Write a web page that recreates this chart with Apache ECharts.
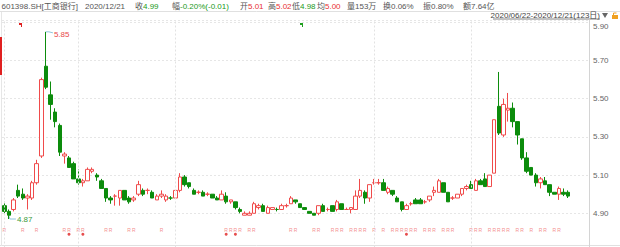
<!DOCTYPE html>
<html><head><meta charset="utf-8">
<script src="https://cdn.jsdelivr.net/npm/echarts@6/dist/echarts.min.js"></script>
<style>html,body{margin:0;padding:0;background:#fff;overflow:hidden}#c{width:620px;height:247px}</style>
</head><body><div id="c"></div>
<script>
// trading days per month (2020)
const tradeDays = {
  '06': [22,23,24,29,30],
  '07': [1,2,3,6,7,8,9,10,13,14,15,16,17,20,21,22,23,24,27,28,29,30,31],
  '08': [3,4,5,6,7,10,11,12,13,14,17,18,19,20,21,24,25,26,27,28,31],
  '09': [1,2,3,4,7,8,9,10,11,14,15,16,17,18,21,22,23,24,25,28,29,30],
  '10': [9,12,13,14,15,16,19,20,21,22,23,26,27,28,29,30],
  '11': [2,3,4,5,6,9,10,11,12,13,16,17,18,19,20,23,24,25,26,27,30],
  '12': [1,2,3,4,7,8,9,10,11,14,15,16,17,18,21]
};
const categories = [];
Object.keys(tradeDays).forEach(m => tradeDays[m].forEach(d => categories.push('2020-' + m + '-' + String(d).padStart(2,'0'))));

const opens = [4.94,4.91,4.92,5.02,5.00,4.98,4.98,5.06,5.20,5.67,5.52,5.43,5.36,5.20,5.19,5.16,5.08,5.06,5.07,5.12,
5.10,5.07,5.03,4.98,4.99,4.98,5.02,4.98,4.97,5.00,5.02,5.02,5.01,4.97,4.99,4.97,4.98,4.98,5.02,5.09,
5.06,5.02,5.01,5.01,5.00,5.00,4.98,4.97,4.99,4.96,4.96,4.92,4.89,4.89,4.90,4.93,4.94,4.90,4.92,4.92,
4.92,4.94,4.95,4.97,4.95,4.93,4.91,4.90,4.90,4.94,4.92,4.94,4.92,4.95,4.92,4.92,4.92,4.99,5.01,4.98,
5.06,5.06,5.06,5.01,5.02,4.98,4.96,4.92,4.95,4.97,4.97,4.96,4.97,5.01,5.01,5.06,5.01,4.98,4.98,5.00,
5.03,5.05,5.02,5.07,5.08,5.04,5.11,5.46,5.31,5.44,5.45,5.38,5.29,5.19,5.14,5.10,5.06,5.07,5.05,5.01,
5.00,5.01,5.01];
const closes = [4.91,4.89,4.97,4.99,4.98,4.99,5.06,5.16,5.60,5.56,5.47,5.38,5.22,5.21,5.14,5.08,5.06,5.07,5.13,5.13,
5.09,5.03,4.98,4.97,4.99,5.02,4.97,4.96,4.98,5.05,5.00,5.02,4.98,4.99,5.00,4.99,4.98,5.02,5.09,5.05,
5.04,5.00,5.01,4.99,5.00,4.98,4.97,5.00,4.96,4.97,4.93,4.91,4.90,4.90,4.95,4.94,4.91,4.93,4.93,4.92,
4.94,4.94,4.98,4.96,4.93,4.92,4.90,4.89,4.94,4.91,4.92,4.91,4.96,4.92,4.92,4.93,4.99,5.02,4.98,5.05,
5.06,5.06,5.02,5.03,5.00,4.96,4.92,4.94,4.95,4.95,4.95,4.96,4.99,5.02,5.07,5.01,4.96,4.98,5.00,5.03,
5.04,5.03,5.07,5.05,5.04,5.10,5.39,5.32,5.47,5.45,5.38,5.31,5.19,5.12,5.10,5.06,5.08,5.05,5.01,5.00,
5.03,5.00,4.99];
const lows = [4.90,4.87,4.91,4.98,4.97,4.92,4.97,5.05,5.19,5.55,5.39,5.35,5.20,5.16,5.14,5.08,5.05,5.04,5.07,5.11,
5.07,5.03,4.96,4.95,4.94,4.94,4.97,4.95,4.96,4.99,4.99,5.00,4.98,4.97,4.98,4.96,4.97,4.98,5.01,5.04,
5.03,5.00,5.00,4.99,4.99,4.98,4.97,4.97,4.95,4.95,4.92,4.90,4.89,4.89,4.90,4.92,4.91,4.90,4.92,4.91,
4.92,4.93,4.95,4.95,4.93,4.92,4.90,4.89,4.89,4.91,4.91,4.91,4.91,4.92,4.92,4.90,4.92,4.98,4.95,4.96,
5.05,5.05,5.02,5.00,4.99,4.96,4.91,4.92,4.94,4.95,4.95,4.95,4.96,4.99,5.01,5.01,4.96,4.97,4.98,4.99,
5.02,5.03,5.02,5.05,5.04,5.04,5.11,5.31,5.30,5.38,5.35,5.26,5.18,5.11,5.10,5.04,5.03,5.05,4.99,5.00,
4.97,4.99,4.98];
const highs = [4.96,4.92,4.98,5.05,5.03,5.00,5.07,5.18,5.61,5.85,5.59,5.45,5.37,5.22,5.20,5.17,5.13,5.08,5.14,5.14,
5.11,5.08,5.03,4.99,5.00,5.02,5.02,4.99,4.99,5.07,5.03,5.03,5.02,5.00,5.02,5.00,4.99,5.02,5.11,5.10,
5.06,5.03,5.02,5.02,5.01,5.00,4.99,5.02,5.01,4.97,4.96,4.93,4.91,4.91,4.96,4.95,4.95,4.94,4.93,4.93,
4.95,4.95,4.99,4.97,4.95,4.93,4.91,4.90,4.94,4.95,4.93,4.94,4.97,4.95,4.93,4.93,5.02,5.08,5.02,5.05,
5.08,5.08,5.08,5.04,5.02,4.99,4.96,4.95,4.96,4.98,4.98,4.97,4.99,5.04,5.08,5.06,5.01,4.99,5.00,5.03,
5.05,5.07,5.08,5.08,5.11,5.10,5.39,5.64,5.50,5.53,5.48,5.38,5.29,5.22,5.14,5.11,5.09,5.09,5.05,5.01,
5.04,5.03,5.02];

const rMarks = [0,4,7,13,14,16,17,22,23,27,28,34,48,49,50,51,53,54,62,63,67,68,71,72,73,75,76,77,78,80,82,84,85,86,87,88,89,
91,92,93,95,96,97,101,102,103,105,106,107,108,109,111,112,114,116,117,119,120];
const starMarks = [14,17,48,50,87];
const monthStarts = ['2020-08-03','2020-09-01','2020-10-09','2020-11-02','2020-12-01'];
const yTicks = [4.9,5.1,5.3,5.5,5.7,5.9];
const maxMark = {idx: 9, value: 5.85};
const minMark = {idx: 1, value: 4.87};
const headerItems = [
  {x: 1.5, label: '601398.SH[工商银行]', value: '', vc: 'g'},
  {x: 85, label: '2020/12/21', value: '', vc: 'g'},
  {x: 135, label: '收', value: '4.99', vc: 'dn'},
  {x: 172, label: '幅', value: '-0.20%(-0.01)', vc: 'dn'},
  {x: 240, label: '开', value: '5.01', vc: 'up'},
  {x: 268, label: '高', value: '5.02', vc: 'up'},
  {x: 292, label: '低', value: '4.98', vc: 'dn'},
  {x: 317, label: '均', value: '5.00', vc: 'up'},
  {x: 347, label: '量', value: '153万', vc: 'g'},
  {x: 383, label: '换', value: '0.06%', vc: 'g'},
  {x: 423, label: '振', value: '0.80%', vc: 'g'},
  {x: 463, label: '额', value: '7.64亿', vc: 'g'}
];
const rangeText = '2020/06/22-2020/12/21(123日)';

const UP = '#f04b4b', DN = '#0c8c0c';
const FONT = 'Liberation Sans, "Noto Sans CJK SC", sans-serif';
const padCats = categories.concat(['', '', '', '']);
const kData = opens.map((o, i) => [o, closes[i], lows[i], highs[i]]);

const chart = echarts.init(document.getElementById('c'), null, {renderer: 'svg'});
chart.setOption({
  animation: false,
  grid: {left: 2, right: 31, top: 20, height: 231.5, containLabel: false, outerBoundsMode: 'none'},
  xAxis: {
    type: 'category', data: padCats, boundaryGap: true,
    axisLine: {show: false}, axisTick: {show: false}, axisLabel: {show: false}, splitLine: {show: false}
  },
  yAxis: {
    type: 'value', position: 'right', min: 4.7, max: 5.912, interval: 0.2, scale: true,
    axisLine: {show: true, lineStyle: {color: '#d4d4d4'}},
    axisTick: {show: false},
    splitLine: {show: true, lineStyle: {color: '#e6e6e6', type: [2, 2]}},
    axisLabel: {
      margin: 4, color: '#666', fontSize: 8, fontFamily: FONT,
      formatter: function (v) {
        const hit = yTicks.find(t => Math.abs(t - v) < 1e-6);
        if (hit === undefined) return '';
        if (hit === yTicks[yTicks.length - 1]) return '{t|' + hit.toFixed(2) + '}';
        return hit.toFixed(2);
      },
      rich: {t: {color: '#666', fontSize: 8, fontFamily: FONT, padding: [9, 0, 0, 0]}}
    }
  },
  series: [
    {
      type: 'candlestick', data: kData, barWidth: 4,
      itemStyle: {color: '#ffffff', color0: DN, borderColor: UP, borderColor0: DN, borderWidth: 1},
      markLine: {
        silent: true, symbol: 'none', label: {show: false},
        lineStyle: {color: '#e2e2e2', type: [2, 2], width: 1},
        data: monthStarts.map(d => ({xAxis: d}))
      }
    },
    {
      type: 'scatter', data: rMarks.map(i => [i, 4.815]), symbolSize: 1,
      itemStyle: {color: 'rgba(0,0,0,0)'}, silent: true,
      label: {show: true, position: 'inside', formatter: 'R', color: '#f07070', fontSize: 5, fontFamily: FONT}
    },
    {
      type: 'scatter', data: starMarks.map(i => [i, 4.79]), symbolSize: 3, symbol: 'circle',
      itemStyle: {color: '#e02020'}, silent: true
    }
  ]
});

const pMax = chart.convertToPixel({seriesIndex: 0}, [maxMark.idx, maxMark.value]);
const pMin = chart.convertToPixel({seriesIndex: 0}, [minMark.idx, minMark.value]);

const graphics = [
  {type: 'line', shape: {x1: 0, y1: 11.5, x2: 620, y2: 11.5}, style: {stroke: '#e0e0e0', lineWidth: 1}},
  {type: 'line', shape: {x1: 0, y1: 245.5, x2: 620, y2: 245.5}, style: {stroke: '#e0e0e0', lineWidth: 1}},
  {type: 'line', shape: {x1: 1.5, y1: 12, x2: 1.5, y2: 246}, style: {stroke: '#e6e6e6', lineWidth: 1}},
  {type: 'rect', shape: {x: 0, y: 37, width: 2, height: 38}, style: {fill: '#e02020'}},
  {type: 'polygon', shape: {points: [[19, 23], [22, 23], [22, 27], [21, 27], [21, 25], [19, 25]]}, style: {fill: '#e02020'}},
  {type: 'polygon', shape: {points: [[300, 23], [303, 23], [303, 27], [302, 27], [302, 25], [300, 25]]}, style: {fill: '#20a020'}},
  {type: 'polyline', shape: {points: [[pMax[0], pMax[1]], [pMax[0] + 3, pMax[1]], [pMax[0] + 7, pMax[1] + 1]]}, style: {stroke: '#8fc6dc', lineWidth: 1, fill: null}},
  {type: 'text', x: pMax[0] + 8, y: pMax[1] + 3, style: {text: maxMark.value.toFixed(2), fill: '#e84848', font: '8px ' + FONT, textVerticalAlign: 'middle'}},
  {type: 'polyline', shape: {points: [[pMin[0], pMin[1] - 3], [pMin[0] + 1, pMin[1]], [pMin[0] + 7, pMin[1]]]}, style: {stroke: '#8fc6dc', lineWidth: 1, fill: null}},
  {type: 'text', x: pMin[0] + 8, y: pMin[1], style: {text: minMark.value.toFixed(2), fill: '#3c9a3c', font: '8px ' + FONT, textVerticalAlign: 'middle'}},
  {type: 'text', x: 600, y: 15.5, style: {text: rangeText, fill: '#444', font: '8px ' + FONT, textAlign: 'right', textVerticalAlign: 'middle'}},
  {type: 'line', shape: {x1: 493, y1: 19, x2: 600, y2: 19}, style: {stroke: '#666', lineWidth: 0.8}},
  {type: 'polygon', shape: {points: [[602, 13], [608, 13], [605, 18]]}, style: {fill: '#666'}},
  {type: 'rect', shape: {x: 612, y: 15, width: 6, height: 4}, style: {fill: '#f0a020'}},
  {type: 'polyline', shape: {points: [[613.5, 15], [613.5, 13], [616.5, 13]]}, style: {stroke: '#f0a020', lineWidth: 1, fill: null}}
];
headerItems.forEach(h => {
  const vcol = h.vc === 'up' ? '#e83030' : (h.vc === 'dn' ? '#1a9a1a' : '#555');
  graphics.push({
    type: 'text', x: h.x, y: 6,
    style: {
      text: '{l|' + h.label + '}' + (h.value ? '{v|' + h.value + '}' : ''),
      textVerticalAlign: 'middle',
      rich: {
        l: {fill: '#555', font: '8px ' + FONT},
        v: {fill: vcol, font: '8px ' + FONT}
      }
    }
  });
});
chart.setOption({graphic: graphics});
</script>
</body></html>
